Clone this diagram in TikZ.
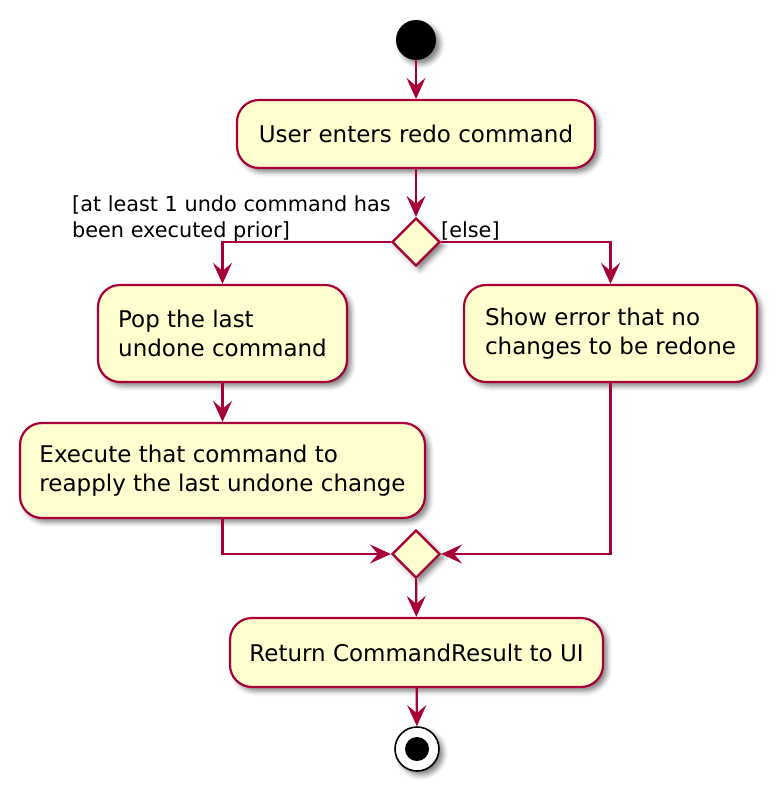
\documentclass[tikz,border=0pt]{standalone}
\usepackage{fontspec}
\setmainfont{DejaVu Sans}
\usetikzlibrary{arrows.meta,shapes.geometric,shadows.blur}
\definecolor{umlborder}{HTML}{A80036}
\definecolor{umlfill}{HTML}{FEFECE}
\tikzset{
  shad/.style={blur shadow={shadow xshift=4pt, shadow yshift=-4pt, shadow blur radius=5pt, shadow opacity=50}},
  actbox/.style={shad, draw=umlborder, fill=umlfill, line width=2.2pt, rounded corners=22pt,
    align=left, inner xsep=0pt, inner ysep=0pt, font=\fontsize{23}{28.4}\selectfont},
  decision/.style={shad, diamond, draw=umlborder, fill=umlfill, line width=2.2pt, inner sep=0pt, minimum size=48pt},
  flow/.style={draw=umlborder, line width=2.2pt, -{Stealth[length=21pt, width=19pt, inset=8pt]}},
  guard/.style={inner sep=0pt, align=left, font=\fontsize{20.8}{25.7}\selectfont},
}
\begin{document}
\begin{tikzpicture}[x=1pt, y=-1pt]
\useasboundingbox (0,0) rectangle (776,791);
% start
\node[shad, circle, fill=black, inner sep=0pt, minimum size=40pt] (start) at (416,40) {};
% activities
\node[actbox, minimum width=358pt, minimum height=68pt] (user) at (416,134) {User enters redo command};
\node[decision] (d1) at (416,242) {};
\node[actbox, minimum width=249pt, minimum height=97pt] (pop) at (222.5,333.5) {Pop the last\\undone command};
\node[actbox, minimum width=293pt, minimum height=97pt] (show) at (610.5,333.5) {Show error that no\\changes to be redone};
\node[actbox, minimum width=405pt, minimum height=95pt] (exec) at (222.5,470.5) {Execute that command to\\reapply the last undone change};
\node[decision] (d2) at (416,554) {};
\node[actbox, minimum width=373pt, minimum height=69pt] (ret) at (416.5,652.5) {Return CommandResult to UI};
% end
\node[shad, circle, draw=black, fill=white, line width=1.6pt, inner sep=0pt, minimum size=44pt] (end) at (417,749) {};
\node[circle, fill=black, inner sep=0pt, minimum size=24pt] (endin) at (end.center) {};
% guards
\node[guard, anchor=base west] (g1) at (72,237.5) {[at least 1 undo command has\\been executed prior]};
\node[guard, anchor=base west] (g2) at (441,238) {[else]};
% connectors
\draw[flow] (start) -- (user);
\draw[flow] (user) -- (d1);
\draw[flow] (d1.west) -| (pop.north);
\draw[flow] (d1.east) -| (show.north);
\draw[flow] (pop) -- (exec);
\draw[flow] (exec.south) |- (d2.west);
\draw[flow] (show.south) |- (d2.east);
\draw[flow] (d2) -- (ret);
\draw[flow] (ret) -- (end);
\end{tikzpicture}
\end{document}
